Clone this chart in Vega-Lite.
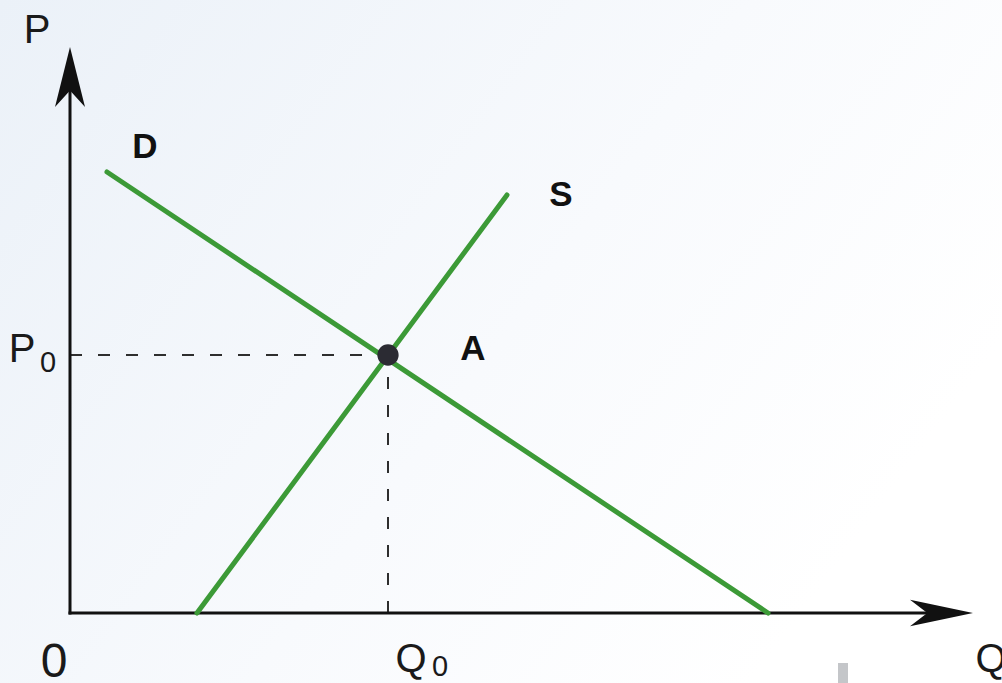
{
  "$schema": "https://vega.github.io/schema/vega-lite/v6.json",
  "autosize": {"type": "none"},
  "width": 1002,
  "height": 683,
  "padding": 0,
  "background": "#ffffff",
  "config": {"view": {"stroke": null}},
  "datasets": {
    "demand": [{"q": 3.7, "p": 44.1}, {"q": 69.8, "p": 0}],
    "supply": [{"q": 12.7, "p": 0}, {"q": 43.7, "p": 41.8}],
    "hdash": [{"q": 0, "p": 25.8}, {"q": 31.8, "p": 25.8}],
    "vdash": [{"q": 31.8, "p": 0}, {"q": 31.8, "p": 25.8}],
    "yaxis": [{"q": 0, "p": 0}, {"q": 0, "p": 54}],
    "xaxis": [{"q": 0, "p": 0}, {"q": 88, "p": 0}],
    "equilibrium": [{"q": 31.8, "p": 25.8}],
    "uparrow": [{"q": 0, "p": 53.6}],
    "rightarrow": [{"q": 87.15, "p": 0}],
    "bigLabels": [
      {"label": "P", "q": -3.3, "p": 57.0},
      {"label": "P", "q": -4.8, "p": 25.1},
      {"label": "Q", "q": 34.1, "p": -5.9},
      {"label": "Q", "q": 92.1, "p": -5.9}
    ],
    "subLabels": [
      {"label": "0", "q": -2.2, "p": 24.1},
      {"label": "0", "q": 37.0, "p": -6.3}
    ],
    "originLabel": [{"label": "0", "q": -1.6, "p": -6.4}],
    "curveLabels": [
      {"label": "D", "q": 7.5, "p": 45.5},
      {"label": "S", "q": 49.1, "p": 40.7},
      {"label": "A", "q": 40.3, "p": 25.3}
    ],
    "artifact": [{"q": 76.8, "q2": 77.8, "p": -5.0, "p2": -7.0}]
  },
  "encoding": {
    "x": {"field": "q", "type": "quantitative", "scale": {"domain": [-7, 93.2], "nice": false, "zero": false}, "axis": null},
    "y": {"field": "p", "type": "quantitative", "scale": {"domain": [-7, 61.3], "nice": false, "zero": false}, "axis": null}
  },
  "layer": [
    {
      "data": {"values": [{"q": -7, "q2": 93.2, "p": -7, "p2": 61.3}]},
      "mark": {
        "type": "rect",
        "fill": {
          "gradient": "linear",
          "x1": 0, "y1": 0, "x2": 1, "y2": 0.5,
          "stops": [
            {"offset": 0, "color": "#ebf1f8"},
            {"offset": 0.6, "color": "#f8fafd"},
            {"offset": 1, "color": "#ffffff"}
          ]
        },
        "strokeWidth": 0
      },
      "encoding": {
        "x2": {"field": "q2"},
        "y2": {"field": "p2"}
      }
    },
    {
      "data": {"name": "artifact"},
      "mark": {"type": "rect", "fill": "#c4c6c9", "strokeWidth": 0},
      "encoding": {"x2": {"field": "q2"}, "y2": {"field": "p2"}}
    },
    {
      "data": {"name": "hdash"},
      "mark": {"type": "line", "color": "#2e2e2e", "strokeWidth": 2, "strokeDash": [12, 16]},
      "encoding": {}
    },
    {
      "data": {"name": "vdash"},
      "mark": {"type": "line", "color": "#2e2e2e", "strokeWidth": 2, "strokeDash": [12, 16]},
      "encoding": {}
    },
    {
      "data": {"name": "yaxis"},
      "mark": {"type": "line", "color": "#111111", "strokeWidth": 3, "strokeCap": "square"},
      "encoding": {}
    },
    {
      "data": {"name": "xaxis"},
      "mark": {"type": "line", "color": "#111111", "strokeWidth": 3, "strokeCap": "square"},
      "encoding": {}
    },
    {
      "data": {"name": "uparrow"},
      "mark": {"type": "point", "shape": "M0,-1 L0.5,1 L0,0.45 L-0.5,1 Z", "size": 3600, "filled": true, "color": "#111111", "opacity": 1, "strokeWidth": 0}
    },
    {
      "data": {"name": "rightarrow"},
      "mark": {"type": "point", "shape": "M0,-1 L0.42,1 L0,0.45 L-0.42,1 Z", "size": 3969, "angle": 90, "filled": true, "color": "#111111", "opacity": 1, "strokeWidth": 0}
    },
    {
      "data": {"name": "demand"},
      "mark": {"type": "line", "color": "#3c9a37", "strokeWidth": 5, "strokeCap": "round"},
      "encoding": {}
    },
    {
      "data": {"name": "supply"},
      "mark": {"type": "line", "color": "#3c9a37", "strokeWidth": 5, "strokeCap": "round"},
      "encoding": {}
    },
    {
      "data": {"name": "equilibrium"},
      "mark": {"type": "point", "shape": "circle", "size": 452, "filled": true, "color": "#2b2b33", "opacity": 1, "strokeWidth": 0}
    },
    {
      "data": {"name": "bigLabels"},
      "mark": {"type": "text", "font": "Liberation Sans", "fontSize": 40, "color": "#1a1a1a", "align": "center", "baseline": "alphabetic"},
      "encoding": {"text": {"field": "label"}}
    },
    {
      "data": {"name": "subLabels"},
      "mark": {"type": "text", "font": "Liberation Sans", "fontSize": 29, "color": "#1a1a1a", "align": "center", "baseline": "alphabetic"},
      "encoding": {"text": {"field": "label"}}
    },
    {
      "data": {"name": "originLabel"},
      "mark": {"type": "text", "font": "Liberation Sans", "fontSize": 48, "color": "#1a1a1a", "align": "center", "baseline": "alphabetic"},
      "encoding": {"text": {"field": "label"}}
    },
    {
      "data": {"name": "curveLabels"},
      "mark": {"type": "text", "font": "Liberation Sans", "fontWeight": "bold", "fontSize": 35, "color": "#111111", "align": "center", "baseline": "alphabetic"},
      "encoding": {"text": {"field": "label"}}
    }
  ]
}
